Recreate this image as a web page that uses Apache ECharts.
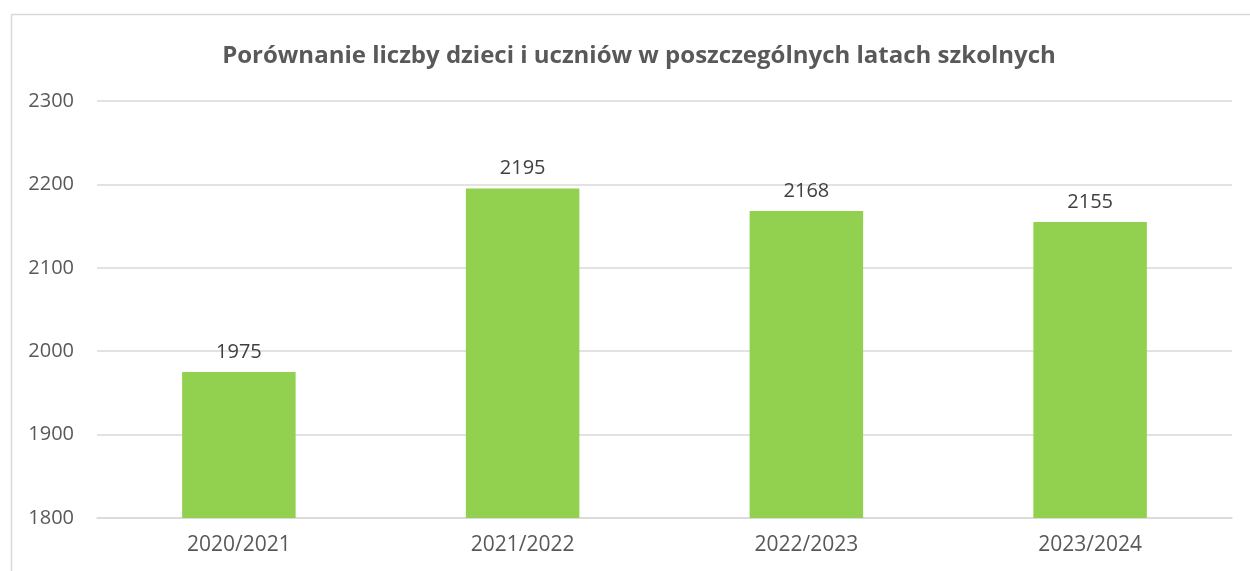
<!DOCTYPE html>
<html><head><meta charset="utf-8">
<script src="https://cdn.jsdelivr.net/npm/echarts@6/dist/echarts.min.js"></script>
<style>html,body{margin:0;padding:0;background:#fff}#c{width:1250px;height:571px}</style>
</head><body><div id="c"></div>
<script>
const categories = ['2020/2021', '2021/2022', '2022/2023', '2023/2024'];
const values = [1975, 2195, 2168, 2155];
const yTicks = [1800, 1900, 2000, 2100, 2200, 2300];
const titleText = 'Porównanie liczby dzieci i uczniów w poszczególnych latach szkolnych';

const chart = echarts.init(document.getElementById('c'));
const F = '"Open Sans", "Noto Sans", sans-serif';
chart.setOption({
  animation: false,
  backgroundColor: '#fff',
  graphic: [{ type: 'rect', left: 9, top: 12, shape: { width: 1260, height: 600 },
    style: { fill: 'none', stroke: '#d9d9d9', lineWidth: 1.5 }, silent: true }],
  title: { text: titleText, left: 634, top: 39, textAlign: 'center',
    textStyle: { fontFamily: F, fontSize: 24, fontWeight: 'bold', color: '#595959' } },
  grid: { left: 97, right: 18, top: 101, bottom: 53 },
  xAxis: { type: 'category', data: categories,
    axisLine: { lineStyle: { color: '#d9d9d9', width: 1.5 } }, axisTick: { show: false },
    axisLabel: { fontFamily: F, fontSize: 21, color: '#595959', margin: 17 } },
  yAxis: { type: 'value', min: yTicks[0], max: yTicks[yTicks.length - 1], interval: 100,
    axisLine: { show: false }, axisTick: { show: false },
    splitLine: { lineStyle: { color: '#d9d9d9', width: 1.5 } },
    axisLabel: { fontFamily: F, fontSize: 20, color: '#595959', margin: 23, formatter: v => String(v) } },
  series: [{ type: 'bar', data: values, barWidth: '40%',
    itemStyle: { color: '#92D050' },
    label: { show: true, position: 'top', distance: 10, fontFamily: F, fontSize: 20, color: '#404040' } }]
});
</script></body></html>
